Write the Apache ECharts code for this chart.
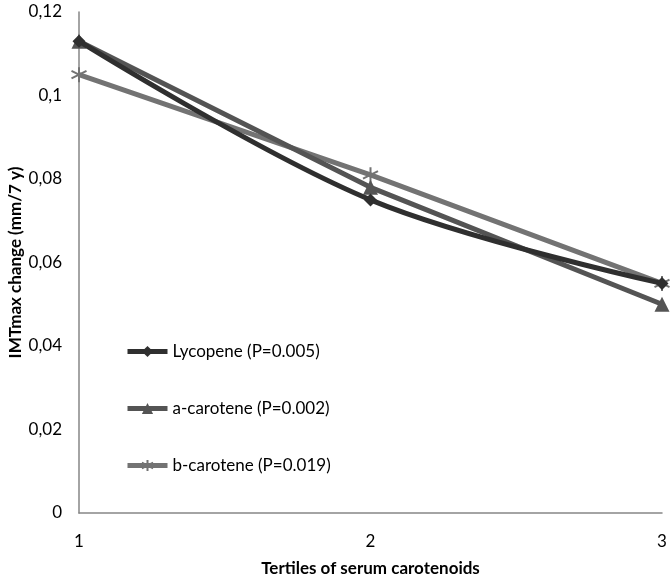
<!DOCTYPE html>
<html><head><meta charset="utf-8">
<script src="https://cdn.jsdelivr.net/npm/echarts@6/dist/echarts.min.js"></script>
<style>html,body{margin:0;padding:0;background:#fff}#c{width:672px;height:577px}</style>
</head><body><div id="c"></div>
<script>
const categories = ['1', '2', '3'];
const lycopene = [0.113, 0.075, 0.055];
const aCarotene = [0.113, 0.078, 0.050];
const bCarotene = [0.105, 0.081, 0.055];
const seriesNames = ['Lycopene (P=0.005)', 'a-carotene (P=0.002)', 'b-carotene (P=0.019)'];
const yTicks = [0, 0.02, 0.04, 0.06, 0.08, 0.1, 0.12];

const FONT = 'Lato, "Open Sans", sans-serif';
const star = 'path://M0,-10L0,10M-8.66,-5L8.66,5M-8.66,5L8.66,-5';
const chart = echarts.init(document.getElementById('c'));
chart.setOption({
  animation: false,
  grid: { left: 79, right: 10, top: 12, bottom: 64, containLabel: false, outerBoundsMode: 'none' },
  legend: {
    orient: 'vertical', left: 120, top: 338, itemWidth: 40, itemHeight: 14, itemGap: 40,
    lineStyle: { width: 5 },
    textStyle: { fontFamily: FONT, fontSize: 17, color: '#000' },
    data: seriesNames
  },
  xAxis: {
    type: 'category', data: categories, boundaryGap: false,
    name: 'Tertiles of serum carotenoids', nameLocation: 'middle', nameGap: 47,
    nameTextStyle: { fontFamily: FONT, fontSize: 17, fontWeight: 'bold', color: '#000' },
    axisLine: { lineStyle: { color: '#868686', width: 1.5 } },
    axisTick: { show: false },
    axisLabel: { fontFamily: FONT, fontSize: 17, color: '#000', margin: 20 }
  },
  yAxis: {
    type: 'value', min: yTicks[0], max: yTicks[yTicks.length - 1], interval: 0.02,
    name: 'IMTmax change (mm/7 y)', nameLocation: 'middle', nameGap: 55, nameMoveOverlap: false,
    nameTextStyle: { fontFamily: FONT, fontSize: 17, fontWeight: 'bold', color: '#000' },
    axisLine: { show: true, lineStyle: { color: '#868686', width: 1.5 } },
    axisTick: { show: false },
    splitLine: { show: false },
    axisLabel: {
      fontFamily: FONT, fontSize: 17, color: '#000', margin: 17,
      formatter: v => String(+v.toFixed(2)).replace('.', ',')
    }
  },
  series: [
    {
      name: seriesNames[0], type: 'line', data: lycopene, smooth: 0.35,
      symbol: 'diamond', symbolSize: 13,
      lineStyle: { color: '#2f2f2f', width: 5 },
      itemStyle: { color: '#2f2f2f' }, z: 3
    },
    {
      name: seriesNames[1], type: 'line', data: aCarotene,
      symbol: 'triangle', symbolSize: 15,
      lineStyle: { color: '#545454', width: 5 },
      itemStyle: { color: '#545454' }, z: 2
    },
    {
      name: seriesNames[2], type: 'line', data: bCarotene,
      symbol: star, symbolSize: 15,
      lineStyle: { color: '#737373', width: 5 },
      itemStyle: { color: '#737373', borderColor: '#737373', borderWidth: 2 }, z: 1
    }
  ]
});
</script></body></html>
